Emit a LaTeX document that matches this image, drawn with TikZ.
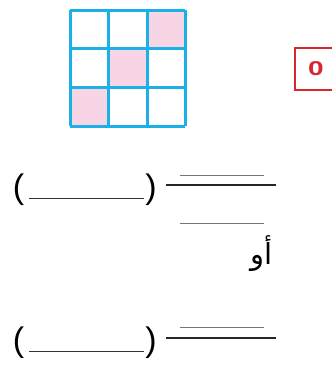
\documentclass[tikz,border=0pt]{standalone}
\usepackage{fontspec}
\setmainfont{Liberation Sans}
\newfontfamily\arabicfont[Script=Arabic]{DejaVu Sans}
\TeXXeTstate=1
\definecolor{gridblue}{HTML}{1BB0E8}
\definecolor{cellpink}{HTML}{F8D5E5}
\definecolor{boxred}{HTML}{D7262E}
\tikzset{
  gridline/.style={draw=gridblue, line width=3pt},
  pinkcell/.style={fill=cellpink},
  thinbar/.style={draw=black!55, line width=1pt},
  thickbar/.style={draw=black!85, line width=2.4pt},
  blank/.style={draw=black!80, line width=1pt},
  paren/.style={inner sep=0pt, font=\fontsize{34}{36}\selectfont},
}
\begin{document}
\begin{tikzpicture}[x=1pt,y=-1pt]
\useasboundingbox (0,0) rectangle (332,370);
% pink cells
\fill[pinkcell] (147,10) rectangle (185,48);
\fill[pinkcell] (108,48) rectangle (147,87);
\fill[pinkcell] (70,87) rectangle (108,126);
% grid
\foreach \x in {70,108,147,185} \draw[gridline] (\x,10) -- (\x,126);
\foreach \y in {10,48,87,126} \draw[gridline] (70,\y) -- (185,\y);
% red box
\draw[boxred, line width=2pt] (295,48) rectangle (345,89.5);
\node[text=boxred, inner sep=0pt, xscale=1.4, font=\bfseries\fontsize{20}{22}\selectfont] (zero) at (316,69) {0};
% row 1
\node[paren] (lp1) at (18.5,190) {(};
\node[paren] (rp1) at (151,190) {)};
\coordinate (b1a) at (29,198); \coordinate (b1b) at (144,198);
\draw[blank] (b1a) -- (b1b);
\coordinate (t1a) at (180,175); \coordinate (t1b) at (264,175);
\draw[thinbar] (t1a) -- (t1b);
\coordinate (f1a) at (166,185); \coordinate (f1b) at (276,185);
\draw[thickbar] (f1a) -- (f1b);
\coordinate (d1a) at (180,223); \coordinate (d1b) at (264,223);
\draw[thinbar] (d1a) -- (d1b);
\node[inner sep=0pt, font=\fontsize{29}{31}\selectfont] (aw) at (261.5,254) {\arabicfont\beginR أو\endR};
% row 2
\node[paren] (lp2) at (18.5,343) {(};
\node[paren] (rp2) at (151,343) {)};
\coordinate (b2a) at (29,351); \coordinate (b2b) at (144,351);
\draw[blank] (b2a) -- (b2b);
\coordinate (t2a) at (180,327); \coordinate (t2b) at (264,327);
\draw[thinbar] (t2a) -- (t2b);
\coordinate (f2a) at (166,338); \coordinate (f2b) at (276,338);
\draw[thickbar] (f2a) -- (f2b);
\end{tikzpicture}
\end{document}
